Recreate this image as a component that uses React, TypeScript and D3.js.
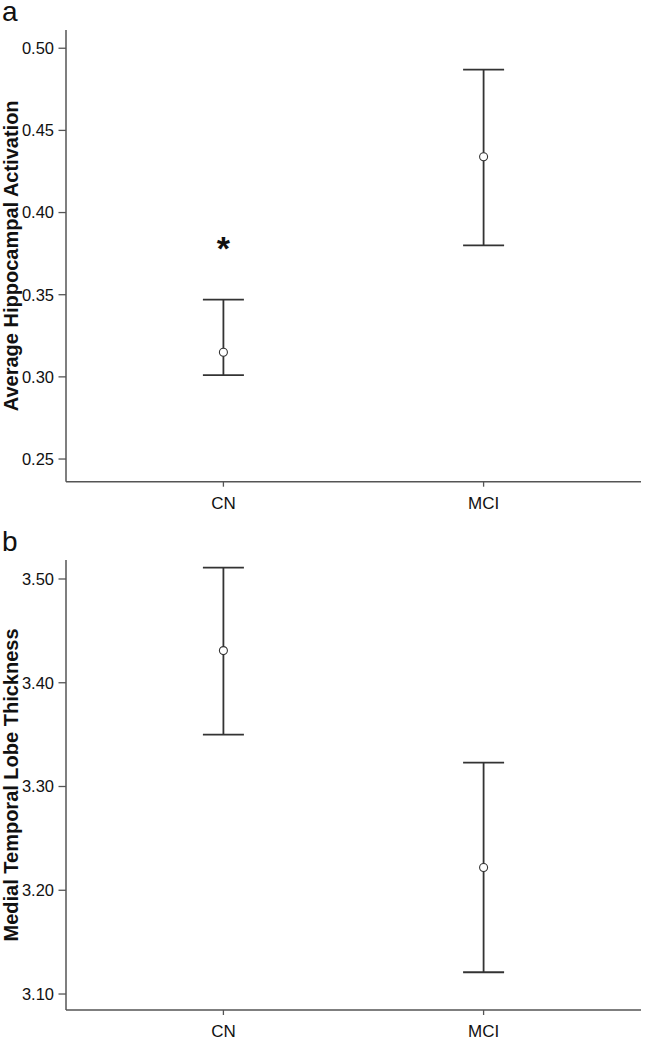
import React from "react";
import * as d3 from "d3";

const groups = ["CN", "MCI"];

// Panel a: Average Hippocampal Activation
const aMean = [0.315, 0.434];
const aLow = [0.301, 0.380];
const aHigh = [0.347, 0.487];
const aTicks = [0.25, 0.30, 0.35, 0.40, 0.45, 0.50];

// Panel b: Medial Temporal Lobe Thickness
const bMean = [3.431, 3.222];
const bLow = [3.350, 3.121];
const bHigh = [3.511, 3.323];
const bTicks = [3.10, 3.20, 3.30, 3.40, 3.50];

const FONT = "'Liberation Sans', Arial, Helvetica, sans-serif";
const AXIS = "#555";
const BAR = "#333";

type PanelProps = {
  letter: string;
  title: string;
  top: number;
  bottom: number;
  domain: [number, number];
  ticks: number[];
  fmt: (v: number) => string;
  mean: number[];
  low: number[];
  high: number[];
  star?: number;
};

function Panel(p: PanelProps) {
  const left = 66;
  const right = 641;
  const x = d3.scalePoint<string>().domain(groups).range([left, right]).padding(0.605);
  const y = d3.scaleLinear().domain(p.domain).range([p.bottom, p.top]);
  const cap = 20.5;
  const midY = (p.top + p.bottom) / 2;
  return (
    <g>
      <text x={2} y={p.top - 9} fontFamily={FONT} fontSize={28} fill="#111">{p.letter}</text>
      {/* axes */}
      <line x1={left} x2={left} y1={p.top} y2={p.bottom} stroke={AXIS} strokeWidth={1.5} />
      <line x1={left} x2={right} y1={p.bottom} y2={p.bottom} stroke={AXIS} strokeWidth={1.5} />
      {p.ticks.map((t) => (
        <g key={t}>
          <line x1={left - 7.5} x2={left} y1={y(t)} y2={y(t)} stroke={AXIS} strokeWidth={1.3} />
          <text x={left - 12} y={y(t)} dy="0.36em" textAnchor="end" fontFamily={FONT} fontSize={16.5} fill="#111">
            {p.fmt(t)}
          </text>
        </g>
      ))}
      {groups.map((g) => (
        <g key={g}>
          <line x1={x(g)} x2={x(g)} y1={p.bottom} y2={p.bottom + 5} stroke={AXIS} strokeWidth={1.3} />
          <text x={x(g)} y={p.bottom + 21} dy="0.36em" textAnchor="middle" fontFamily={FONT} fontSize={17} fill="#111">
            {g}
          </text>
        </g>
      ))}
      <text
        transform={`translate(${18},${midY}) rotate(-90)`}
        textAnchor="middle"
        fontFamily={FONT}
        fontWeight="bold"
        fontSize={20}
        fill="#111"
      >
        {p.title}
      </text>
      {groups.map((g, i) => {
        const cx = x(g) as number;
        return (
          <g key={g}>
            <line x1={cx} x2={cx} y1={y(p.high[i])} y2={y(p.low[i])} stroke={BAR} strokeWidth={1.8} />
            <line x1={cx - cap} x2={cx + cap} y1={y(p.high[i])} y2={y(p.high[i])} stroke={BAR} strokeWidth={1.8} />
            <line x1={cx - cap} x2={cx + cap} y1={y(p.low[i])} y2={y(p.low[i])} stroke={BAR} strokeWidth={1.8} />
            <circle cx={cx} cy={y(p.mean[i])} r={4} fill="white" stroke={BAR} strokeWidth={1.1} />
          </g>
        );
      })}
      {p.star !== undefined && (
        <text x={x(groups[0])} y={y(p.star)} dy="0.57em" textAnchor="middle" fontFamily={FONT} fontWeight="bold" fontSize={34} fill="#111">
          *
        </text>
      )}
    </g>
  );
}

export default function App() {
  return (
    <svg
      width={647}
      height={1050}
      style={{ position: "absolute", left: 0, top: 0, background: "white" }}
    >
      <rect width={647} height={1050} fill="white" />
      <Panel
        letter="a"
        title="Average Hippocampal Activation"
        top={30}
        bottom={481.7}
        domain={[0.2362, 0.5111]}
        ticks={aTicks}
        fmt={d3.format(".2f")}
        mean={aMean}
        low={aLow}
        high={aHigh}
        star={0.383}
      />
      <Panel
        letter="b"
        title="Medial Temporal Lobe Thickness"
        top={560}
        bottom={1010}
        domain={[3.0846, 3.5183]}
        ticks={bTicks}
        fmt={d3.format(".2f")}
        mean={bMean}
        low={bLow}
        high={bHigh}
      />
    </svg>
  );
}
